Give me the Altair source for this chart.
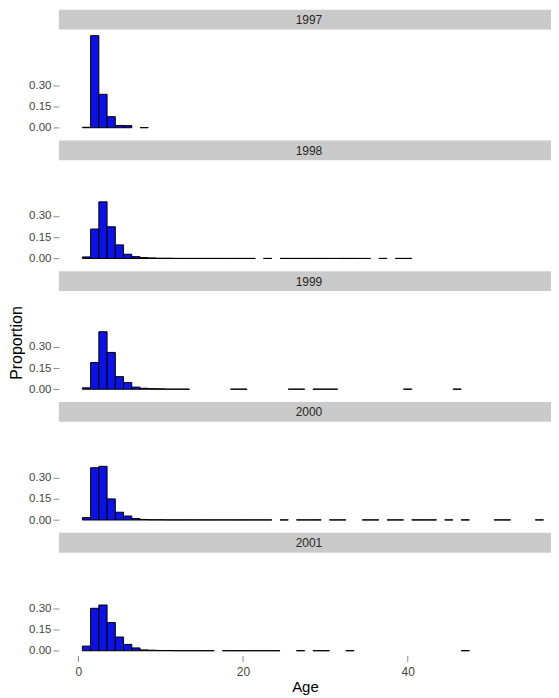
import altair as alt
import pandas as pd

years = [1997, 1998, 1999, 2000, 2001]

ages_1997 = [1, 2, 3, 4, 5, 6, 8]
prop_1997 = [0.003, 0.650, 0.236, 0.078, 0.016, 0.015, 0.001]

ages_1998 = [1, 2, 3, 4, 5, 6, 7, 8, 9, 10, 11, 12, 13, 14, 15, 16, 17, 18, 19, 20, 21,
             23, 25, 26, 27, 28, 29, 30, 31, 32, 33, 34, 35, 37, 39, 40]
prop_1998 = [0.011, 0.208, 0.400, 0.224, 0.096, 0.030, 0.013, 0.006, 0.004, 0.002, 0.002,
             0.001, 0.001, 0.001, 0.001, 0.001, 0.001, 0.001, 0.001, 0.001, 0.001,
             0.001, 0.001, 0.001, 0.001, 0.001, 0.001, 0.001, 0.0005, 0.001, 0.001,
             0.0005, 0.0005, 0.001, 0.001, 0.001]

ages_1999 = [1, 2, 3, 4, 5, 6, 7, 8, 9, 10, 11, 12, 13, 19, 20, 26, 27, 29, 30, 31, 40, 46]
prop_1999 = [0.010, 0.189, 0.406, 0.260, 0.089, 0.047, 0.015, 0.007, 0.004, 0.003, 0.001,
             0.001, 0.001, 0.001, 0.001, 0.001, 0.001, 0.001, 0.001, 0.001, 0.001, 0.001]

ages_2000 = [1, 2, 3, 4, 5, 6, 7, 8, 9, 10, 11, 12, 13, 14, 15, 16, 17, 18, 19, 20, 21, 22, 23,
             25, 27, 28, 29, 31, 32, 35, 36, 38, 39, 41, 42, 43, 45, 47, 51, 52, 56]
prop_2000 = [0.017, 0.369, 0.379, 0.149, 0.055, 0.028, 0.010, 0.004, 0.002, 0.002,
             0.001, 0.001, 0.001, 0.001, 0.001, 0.001, 0.001, 0.001, 0.001, 0.001, 0.001, 0.001, 0.001,
             0.001, 0.001, 0.001, 0.001, 0.001, 0.001, 0.001, 0.001, 0.001, 0.001, 0.001, 0.001,
             0.001, 0.001, 0.001, 0.001, 0.001, 0.001]

ages_2001 = [1, 2, 3, 4, 5, 6, 7, 8, 9, 10, 11, 12, 13, 14, 15, 16,
             18, 19, 20, 21, 22, 23, 24, 27, 29, 30, 33, 47]
prop_2001 = [0.033, 0.300, 0.323, 0.199, 0.097, 0.045, 0.020, 0.006, 0.004, 0.002, 0.002,
             0.001, 0.001, 0.001, 0.001, 0.001,
             0.001, 0.001, 0.001, 0.001, 0.001, 0.001, 0.001, 0.001, 0.001, 0.001, 0.001, 0.001]

x_ticks = [0, 20, 40]
y_ticks = [0.0, 0.15, 0.30]

series = {
    1997: (ages_1997, prop_1997),
    1998: (ages_1998, prop_1998),
    1999: (ages_1999, prop_1999),
    2000: (ages_2000, prop_2000),
    2001: (ages_2001, prop_2001),
}

W = 493
PLOT_H = 103
STRIP_FILL = "#cacaca"
BAR_FILL = "#0c12e4"
FONT = "Liberation Sans"

x_scale = alt.Scale(domain=[-2.35, 57.41], nice=False, zero=False)
y_scale = alt.Scale(domain=[-0.033, 0.693], nice=False, zero=False)


def strip(year, top, h):
    df = pd.DataFrame({"year": [str(year)]})
    rect = alt.Chart(df).mark_rect(color=STRIP_FILL).encode(
        x=alt.value(0), x2=alt.value(W), y=alt.value(top), y2=alt.value(h)
    )
    txt = alt.Chart(df).mark_text(fontSize=12, color="#262626", font=FONT, baseline="middle").encode(
        x=alt.value(W / 2 + 4), y=alt.value((top + h) / 2 + 0.5), text="year:N"
    )
    return alt.layer(rect, txt).properties(width=W, height=h)


def panel(year, last, with_title):
    ages, props = series[year]
    df = pd.DataFrame({
        "age": ages,
        "prop": props,
    })
    df["lo"] = df["age"] - 0.5
    df["hi"] = df["age"] + 0.5
    if last:
        xaxis = alt.Axis(values=x_ticks, title="Age", domain=False, grid=False,
                         tickSize=6, tickColor="#8c8c8c", labelColor="#444444",
                         labelFontSize=12, labelPadding=5, titleFontSize=15,
                         titleColor="#000000", titlePadding=2, titleFontWeight="normal",
                         labelFont=FONT, titleFont=FONT)
    else:
        xaxis = None
    yaxis = alt.Axis(values=y_ticks, format=".2f", title="Proportion", domain=False,
                     grid=False, tickSize=6, tickColor="#8c8c8c", labelColor="#444444",
                     labelFontSize=11.5, labelPadding=2, titleFontSize=16,
                     titleColor="#000000", titlePadding=4, titleFontWeight="normal",
                     titleOpacity=1 if with_title else 0, labelFont=FONT, titleFont=FONT)
    return alt.Chart(df).mark_rect(fill=BAR_FILL, stroke="black", strokeWidth=1).encode(
        x=alt.X("lo:Q", scale=x_scale, axis=xaxis),
        x2="hi:Q",
        y=alt.Y("prop:Q", scale=y_scale, axis=yaxis),
        y2=alt.datum(0),
    ).properties(width=W, height=PLOT_H)


rows = []
for i, yr in enumerate(years):
    if i == 0:
        rows.append(strip(yr, 0, 20))
    else:
        rows.append(strip(yr, 7, 27))
    rows.append(panel(yr, last=(i == len(years) - 1), with_title=(yr == 1999)))

chart = alt.vconcat(*rows, spacing=0).properties(
    padding={"left": 0, "top": 1, "right": 0, "bottom": 0},
    background="white",
).configure_view(stroke=None).configure_concat(spacing=0)

chart.save("out.html", embed_options={"renderer": "svg", "actions": False})
